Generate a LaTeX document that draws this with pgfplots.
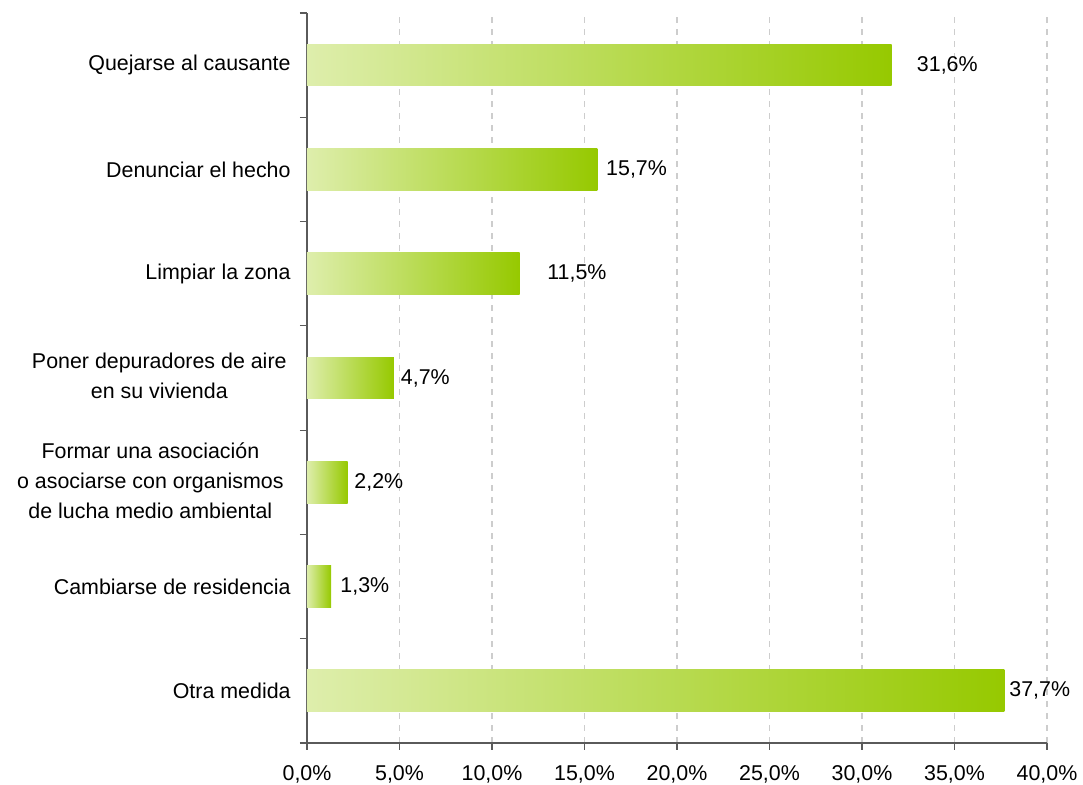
\documentclass[border=0pt]{standalone}
\usepackage{pgfplots}
\pgfplotsset{compat=1.18}
\usepackage{fontspec}
\setmainfont{Liberation Sans}
\definecolor{gL}{RGB}{222,238,172}
\definecolor{gM}{RGB}{204,228,140}
\definecolor{gR}{RGB}{150,201,0}
\definecolor{axc}{RGB}{90,90,90}
\definecolor{gridc}{RGB}{205,205,205}
\pgfplotsset{
  bs/.style={xbar, bar width=0.4, draw=none, left color=gL, middle color=gM, right color=gR,
    point meta=x,
    nodes near coords={\pgfmathprintnumber[fixed,fixed zerofill,precision=1,use comma,assume math mode=true]{\pgfplotspointmeta}\%},
    every node near coord/.append style={anchor=west, inner sep=0pt, text=black, xshift=#1}},
}
\begin{document}
\begin{tikzpicture}[font=\fontsize{10.7}{15}\selectfont]
\path[use as bounding box] (-153.5pt,-21pt) rectangle (388pt,371.5pt);
\begin{axis}[
  at={(0,0)}, anchor=south west,
  width=370pt, height=365pt, scale only axis,
  xmin=0, xmax=40, ymin=-0.5, ymax=6.5,
  axis lines*=left,
  axis line style={axc, line width=0.6pt},
  tick style={axc, line width=0.6pt},
  tick align=outside,
  major tick length=3.5pt,
  xtick={0,5,...,40},
  xticklabel={\pgfmathprintnumber[fixed,fixed zerofill,precision=1,use comma,assume math mode=true]{\tick}\%},
  xticklabel style={text=black, yshift=-4.5pt},
  xmajorgrids,
  grid style={gridc, dash pattern=on 3pt off 3pt, line width=0.6pt},
  ytick={-0.5,0.5,...,6.5},
  yticklabels={},
  extra y ticks={0,1,2,3,4,5,6},
  extra y tick labels={
    Otra medida,
    Cambiarse de residencia,
    {\begin{tabular}{@{}c@{}}Formar una asociación\\o asociarse con organismos\\de lucha medio ambiental\end{tabular}\hspace*{3.5pt}},
    {\begin{tabular}{@{}c@{}}Poner depuradores de aire\\en su vivienda\end{tabular}\hspace*{2pt}},
    Limpiar la zona,
    Denunciar el hecho,
    Quejarse al causante},
  extra y tick style={major tick length=0pt, yticklabel style={inner sep=0pt, anchor=east, xshift=-8pt}},
  clip=false,
]
\addplot[bs=12.5pt] coordinates {(31.6,6)};
\addplot[bs=4.2pt] coordinates {(15.7,5)};
\addplot[bs=13.6pt] coordinates {(11.5,4)};
\addplot[bs=3.3pt] coordinates {(4.7,3)};
\addplot[bs=3.2pt] coordinates {(2.2,2)};
\addplot[bs=4.5pt] coordinates {(1.3,1)};
\addplot[bs=2.3pt] coordinates {(37.7,0)};
\end{axis}
\end{tikzpicture}
\end{document}
